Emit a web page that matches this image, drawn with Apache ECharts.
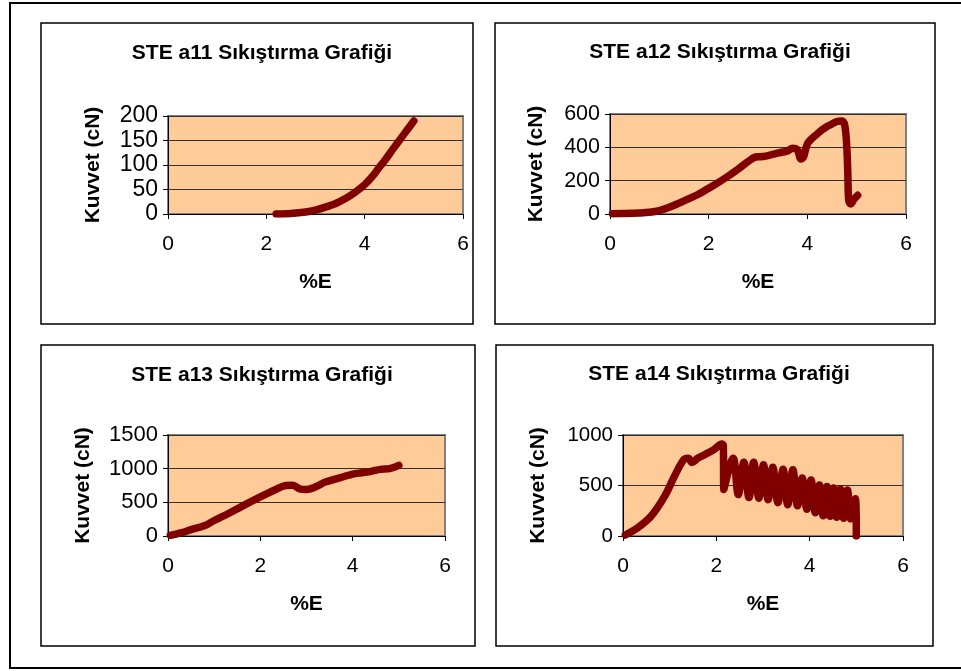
<!DOCTYPE html>
<html>
<head>
<meta charset="utf-8">
<script src="https://cdn.jsdelivr.net/npm/echarts@6/dist/echarts.min.js"></script>
<style>
  html, body { margin: 0; padding: 0; background: #ffffff; }
  #chart { width: 961px; height: 671px; }
</style>
</head>
<body>
<div id="chart"></div>
<script>
// Compression test curves: strain (%E) against force (cN) for four samples.
const titles = ['STE a11 Sıkıştırma Grafiği', 'STE a12 Sıkıştırma Grafiği', 'STE a13 Sıkıştırma Grafiği', 'STE a14 Sıkıştırma Grafiği'];
const xTitle = '%E';
const yTitle = 'Kuvvet (cN)';

const xTicks = [0, 2, 4, 6];
const a11Ticks = [0, 50, 100, 150, 200];
const a12Ticks = [0, 200, 400, 600];
const a13Ticks = [0, 500, 1000, 1500];
const a14Ticks = [0, 500, 1000];

const a11Strain = [2.2, 2.5, 2.8, 3.0, 3.2, 3.4, 3.6, 3.8, 4.0, 4.2, 4.3, 4.4, 4.6, 4.8, 5.0];
const a11Force  = [0, 1, 4, 8, 14, 21, 31, 44, 60, 82, 96, 108, 136, 163, 190];

const a12Strain = [0.05, 0.3, 0.6, 0.8, 1.0, 1.2, 1.4, 1.6, 1.8, 2.0, 2.2, 2.4, 2.6, 2.8, 2.95, 3.1, 3.3, 3.5, 3.6, 3.7, 3.8, 3.87, 3.92, 4.0, 4.1, 4.2, 4.3, 4.4, 4.5, 4.6, 4.7, 4.76, 4.8, 4.82, 4.84, 4.88, 4.95, 5.02];
const a12Force  = [2, 3, 6, 10, 20, 40, 65, 92, 120, 155, 190, 228, 270, 315, 342, 345, 358, 372, 378, 395, 385, 330, 340, 420, 455, 480, 505, 525, 540, 555, 558, 530, 400, 250, 80, 60, 90, 112];

const a13Strain = [0.05, 0.3, 0.5, 0.8, 1.0, 1.3, 1.6, 2.0, 2.3, 2.55, 2.7, 2.85, 3.0, 3.2, 3.4, 3.6, 3.8, 4.0, 4.2, 4.4, 4.6, 4.8, 5.0];
const a13Force  = [10, 50, 95, 155, 230, 330, 440, 580, 680, 750, 755, 700, 690, 730, 800, 840, 880, 920, 940, 960, 990, 1000, 1050];

const a14Strain = [0.05, 0.3, 0.6, 0.9, 1.1, 1.3, 1.4, 1.48, 1.6, 1.75, 1.95, 2.12, 2.15, 2.16,
  2.36, 2.47, 2.59, 2.70, 2.80, 2.91, 3.01, 3.11, 3.21, 3.32, 3.43, 3.53, 3.64, 3.74, 3.84, 3.94,
  4.03, 4.12, 4.21, 4.29, 4.37, 4.44, 4.51, 4.58, 4.66, 4.73, 4.81, 4.88, 4.98, 5.0];
const a14Force  = [10, 76, 195, 400, 590, 755, 770, 728, 770, 805, 855, 910, 900, 460,
  770, 410, 730, 380, 730, 375, 705, 360, 680, 330, 660, 310, 655, 300, 575, 265,
  555, 230, 505, 200, 490, 195, 475, 185, 465, 175, 455, 170, 370, 0];

const pairs = (xs, ys) => xs.map((x, i) => [x, ys[i]]);
const seriesData = [
  pairs(a11Strain, a11Force),
  pairs(a12Strain, a12Force),
  pairs(a13Strain, a13Force),
  pairs(a14Strain, a14Force)
];
const yTickSets = [a11Ticks, a12Ticks, a13Ticks, a14Ticks];

// plot-area boxes: left, top, width, height
const grids = [
  { left: 168, top: 116, width: 295, height: 98 },
  { left: 610, top: 114, width: 296, height: 100 },
  { left: 168, top: 435, width: 277, height: 101 },
  { left: 623, top: 435, width: 280, height: 101 }
];
const titleCenters = [[257, 48], [715, 47], [257, 370], [714, 369]];
const yNameGaps = [64, 63, 74, 74];
const yLabelSizes = [23, 21.5, 22, 20.5];

const font = 'Liberation Sans, Arial, sans-serif';
const lineColor = '#800000';

const option = {
  animation: false,
  backgroundColor: '#ffffff',
  title: titles.map((t, i) => ({
    text: t,
    left: titleCenters[i][0],
    top: titleCenters[i][1],
    textAlign: 'center',
    textVerticalAlign: 'middle',
    textStyle: { fontFamily: font, fontSize: 21, fontWeight: 'bold', color: '#000' }
  })),
  grid: grids.map(g => ({
    left: g.left, top: g.top, width: g.width, height: g.height,
    show: true, backgroundColor: '#FFCC99', borderColor: '#808080', borderWidth: 2
  })),
  xAxis: grids.map((g, i) => ({
    type: 'value', gridIndex: i, min: xTicks[0], max: xTicks[xTicks.length - 1], interval: xTicks[1] - xTicks[0],
    name: xTitle, nameLocation: 'middle', nameGap: 58,
    nameTextStyle: { fontFamily: font, fontSize: 21, fontWeight: 'bold', color: '#000' },
    axisLine: { show: true, lineStyle: { color: '#000', width: 1 } },
    axisTick: { show: true, inside: false, length: 5, lineStyle: { color: '#000' } },
    axisLabel: { margin: 20, fontFamily: font, fontSize: 21, color: '#000', formatter: v => String(v) },
    splitLine: { show: false }
  })),
  yAxis: grids.map((g, i) => {
    const t = yTickSets[i];
    return {
      type: 'value', gridIndex: i, min: t[0], max: t[t.length - 1], interval: t[1] - t[0],
      name: yTitle, nameLocation: 'middle', nameGap: yNameGaps[i], nameRotate: 90,
      nameTextStyle: { fontFamily: font, fontSize: 21, fontWeight: 'bold', color: '#000' },
      axisLine: { show: true, lineStyle: { color: '#000', width: 1 } },
      axisTick: { show: true, inside: false, length: 5, lineStyle: { color: '#000' } },
      axisLabel: { margin: 10, fontFamily: font, fontSize: yLabelSizes[i], color: '#000', formatter: v => String(v) },
      splitLine: { show: true, lineStyle: { color: '#303030', width: 1 } }
    };
  }),
  series: seriesData.map((d, i) => ({
    type: 'line', xAxisIndex: i, yAxisIndex: i, data: d,
    showSymbol: false, smooth: 0.35,
    lineStyle: { color: lineColor, width: 7.5, cap: 'round', join: 'round' },
    z: 3
  })),
  graphic: [
    { type: 'rect', shape: { x: 10, y: 3, width: 952, height: 665 }, style: { fill: 'none', stroke: '#000', lineWidth: 2 }, silent: true },
    { type: 'rect', shape: { x: 41, y: 23, width: 432, height: 301 }, style: { fill: 'none', stroke: '#000', lineWidth: 1.5 }, silent: true },
    { type: 'rect', shape: { x: 495, y: 23, width: 440, height: 301 }, style: { fill: 'none', stroke: '#000', lineWidth: 1.5 }, silent: true },
    { type: 'rect', shape: { x: 41, y: 345, width: 434, height: 301 }, style: { fill: 'none', stroke: '#000', lineWidth: 1.5 }, silent: true },
    { type: 'rect', shape: { x: 496, y: 345, width: 437, height: 301 }, style: { fill: 'none', stroke: '#000', lineWidth: 1.5 }, silent: true }
  ]
};

echarts.init(document.getElementById('chart'), null, { renderer: 'canvas' }).setOption(option);
</script>
</body>
</html>
